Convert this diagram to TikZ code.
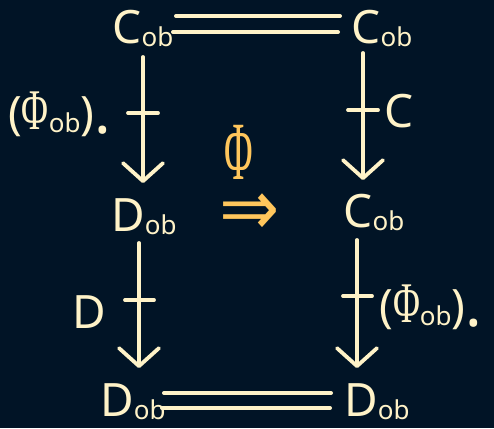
\documentclass[tikz,border=0pt]{standalone}
\usepackage{fontspec}
\setmainfont{Noto Sans}
\newfontfamily\phifont{Liberation Serif}
\newfontfamily\symfont{DejaVu Sans}
\usetikzlibrary{arrows.meta}
\definecolor{bgc}{HTML}{011426}
\definecolor{cream}{HTML}{FFF3C8}
\definecolor{orng}{HTML}{FFC65C}
\newcommand\obsub{\raisebox{-3pt}{\fontsize{26}{26}\selectfont ob}}
\newcommand\phisub{\scalebox{0.8}[1.25]{\phifont Φ}}
\newcommand\bigdot{\raisebox{-4pt}{\fontsize{62}{62}\selectfont\bfseries .}}
\begin{document}
\begin{tikzpicture}[x=1pt,y=1pt,
  obj/.style={inner sep=0pt,anchor=base,text=cream,font=\fontsize{46}{46}\selectfont},
  lbl/.style={inner sep=0pt,anchor=base west,text=cream,font=\fontsize{46}{46}\selectfont},
  arr/.style={draw=cream,line width=3.8pt,line cap=round,-{Straight Barb[length=18pt,width=40pt,round]}},
  tick/.style={draw=cream,line width=3.8pt,line cap=round},
  eqline/.style={draw=cream,line width=4pt,line cap=round}]
\fill[bgc] (0,0) rectangle (494,428);
\useasboundingbox (0,0) rectangle (494,428);
% objects
\node[obj] (tl) at (143,384) {C\obsub};
\node[obj] (tr) at (382,384) {C\obsub};
\node[obj] (ml) at (144,196) {D\obsub};
\node[obj] (mr) at (374,200) {C\obsub};
\node[obj] (bl) at (133,12) {D\obsub};
\node[obj] (br) at (377,12) {D\obsub};
% equalities
\coordinate (e1a) at (176,412); \coordinate (e1b) at (340,412);
\coordinate (e2a) at (173,396); \coordinate (e2b) at (338,396);
\draw[eqline] (e1a) -- (e1b);
\draw[eqline] (e2a) -- (e2b);
\coordinate (e3a) at (164,35); \coordinate (e3b) at (331,35);
\coordinate (e4a) at (162,20); \coordinate (e4b) at (330,20);
\draw[eqline] (e3a) -- (e3b);
\draw[eqline] (e4a) -- (e4b);
% arrows
\coordinate (a1s) at (143,371); \coordinate (a1e) at (143,245);
\coordinate (a2s) at (363,375); \coordinate (a2e) at (363,248);
\coordinate (a3s) at (139,185); \coordinate (a3e) at (139,60);
\coordinate (a4s) at (357,188); \coordinate (a4e) at (357,60);
\draw[arr] (a1s) -- (a1e);
\draw[arr] (a2s) -- (a2e);
\draw[arr] (a3s) -- (a3e);
\draw[arr] (a4s) -- (a4e);
% ticks
\coordinate (t1a) at (128,315); \coordinate (t1b) at (158,315);
\coordinate (t2a) at (348,318); \coordinate (t2b) at (378,318);
\coordinate (t3a) at (125,128); \coordinate (t3b) at (154,128);
\coordinate (t4a) at (343,132); \coordinate (t4b) at (372,132);
\draw[tick] (t1a) -- (t1b);
\draw[tick] (t2a) -- (t2b);
\draw[tick] (t3a) -- (t3b);
\draw[tick] (t4a) -- (t4b);
% labels
\node[lbl] (l1) at (8,298) {(\phisub\obsub)\bigdot};
\node[lbl] (l2) at (384,300) {C};
\node[lbl] (l3) at (72,100) {D};
\node[lbl] (l4) at (379,106) {(\phisub\obsub)\bigdot};
% 2-cell
\node[inner sep=0pt,text=orng,font=\fontsize{46}{46}\phifont] (phi) at (239,276) {\scalebox{0.85}[1.8]{Φ}};
\node[inner sep=0pt,text=orng,font=\fontsize{72}{72}\symfont] (impl) at (250,213) {\scalebox{1}[1.1]{⇒}};
\end{tikzpicture}
\end{document}
